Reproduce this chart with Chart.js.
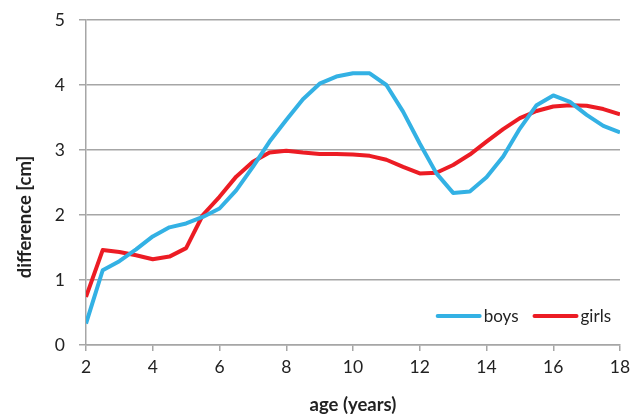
<!DOCTYPE html>
<html>
<head>
<meta charset="utf-8">
<script src="https://cdn.jsdelivr.net/npm/chart.js@4.4.1/dist/chart.umd.min.js"></script>
<style>
  html, body { margin: 0; padding: 0; background: #fff; }
  #wrap { width: 642px; height: 418px; }
</style>
</head>
<body>
<div id="wrap"><canvas id="chart" width="642" height="418"></canvas></div>
<script>
/* ─── Data ─────────────────────────────────────────────────────── */
const ages  = [2, 2.5, 3, 3.5, 4, 4.5, 5, 5.5, 6, 6.5, 7, 7.5, 8, 8.5, 9, 9.5, 10,
               10.5, 11, 11.5, 12, 12.5, 13, 13.5, 14, 14.5, 15, 15.5, 16, 16.5, 17, 17.5, 18];
const boys  = [0.33, 1.15, 1.29, 1.47, 1.67, 1.81, 1.87, 1.97, 2.10, 2.38, 2.74, 3.13, 3.46,
               3.78, 4.02, 4.13, 4.18, 4.18, 4.00, 3.59, 3.10, 2.64, 2.34, 2.36, 2.58, 2.90,
               3.33, 3.69, 3.84, 3.74, 3.54, 3.37, 3.27];
const girls = [0.74, 1.46, 1.43, 1.38, 1.32, 1.36, 1.49, 2.00, 2.28, 2.59, 2.82, 2.96, 2.99,
               2.96, 2.94, 2.94, 2.93, 2.91, 2.85, 2.74, 2.64, 2.65, 2.77, 2.93, 3.13, 3.32,
               3.49, 3.60, 3.67, 3.69, 3.68, 3.63, 3.55];
const xTicks = [2, 4, 6, 8, 10, 12, 14, 16, 18];
const yTicks = [0, 1, 2, 3, 4, 5];
const seriesNames = ['boys', 'girls'];

const FONT   = 'Lato, "Open Sans", sans-serif';
const INK    = '#222222';
const GRID   = '#a6a6a6';
const BLUE   = '#33b1e4';
const RED    = '#ec1c24';

const pts = vals => vals.map((v, i) => ({ x: ages[i], y: v }));

/* ─── Legend drawn inside the plot, bottom right ──────────────── */
const innerLegend = {
    id: 'innerLegend',
    afterDraw(chart) {
        const { ctx, chartArea } = chart;
        ctx.save();
        ctx.font = '17px ' + FONT;
        ctx.textBaseline = 'middle';
        const y = chartArea.bottom - 29;
        let right = chartArea.right - 9;
        const items = chart.data.datasets.slice().reverse();
        items.forEach(ds => {
            const tw = ctx.measureText(ds.label).width;
            const textX = right - tw;
            ctx.fillStyle = INK;
            ctx.fillText(ds.label, textX, y + 1);
            ctx.strokeStyle = ds.borderColor;
            ctx.lineWidth = 4;
            ctx.lineCap = 'round';
            ctx.beginPath();
            ctx.moveTo(textX - 46, y);
            ctx.lineTo(textX - 4, y);
            ctx.stroke();
            right = textX - 46 - 16;
        });
        ctx.restore();
    }
};

/* ─── Y title, centred a little below the canvas middle ───────── */
const yTitle = {
    id: 'yTitle',
    afterDraw(chart) {
        const { ctx } = chart;
        ctx.save();
        ctx.translate(25, chart.height / 2 + 8);
        ctx.rotate(-Math.PI / 2);
        ctx.font = 'bold 18.5px ' + FONT;
        ctx.fillStyle = INK;
        ctx.textAlign = 'center';
        ctx.textBaseline = 'middle';
        ctx.fillText('difference [cm]', 0, 0);
        ctx.restore();
    }
};

new Chart(document.getElementById('chart').getContext('2d'), {
    type: 'line',
    data: {
        datasets: [
            { label: seriesNames[0], data: pts(boys),  borderColor: BLUE, borderWidth: 4, pointRadius: 0, tension: 0, borderJoinStyle: 'round' },
            { label: seriesNames[1], data: pts(girls), borderColor: RED,  borderWidth: 4, pointRadius: 0, tension: 0, borderJoinStyle: 'round' },
        ],
    },
    options: {
        responsive: false,
        animation: false,
        layout: { padding: { top: 20, right: 22, left: 0, bottom: 0 } },
        plugins: { legend: { display: false }, tooltip: { enabled: false } },
        scales: {
            x: {
                type: 'linear',
                min: xTicks[0],
                max: xTicks[xTicks.length - 1],
                afterBuildTicks: s => { s.ticks = xTicks.map(v => ({ value: v })); },
                afterFit: s => { s.height = 73; },
                grid: { drawOnChartArea: false, drawTicks: true, tickLength: 6, color: GRID, lineWidth: 1.5 },
                border: { display: true, color: GRID, width: 1.5 },
                ticks: { color: INK, font: { family: FONT, size: 17.5 }, padding: 6, maxRotation: 0 },
                title: { display: true, text: 'age (years)', color: INK, font: { family: FONT, size: 18.5, weight: 'bold' }, padding: { top: 0, bottom: 2 } },
            },
            y: {
                min: yTicks[0],
                max: yTicks[yTicks.length - 1],
                afterBuildTicks: s => { s.ticks = yTicks.map(v => ({ value: v })); },
                afterFit: s => { s.width = 86; s.paddingTop = 0; s.paddingBottom = 0; },
                grid: { drawOnChartArea: true, drawTicks: true, tickLength: 7, color: GRID, lineWidth: 1.5 },
                border: { display: true, color: GRID, width: 1.5 },
                ticks: { color: INK, font: { family: FONT, size: 17.5 }, padding: 14 },
            },
        },
    },
    plugins: [innerLegend, yTitle],
});
</script>
</body>
</html>
